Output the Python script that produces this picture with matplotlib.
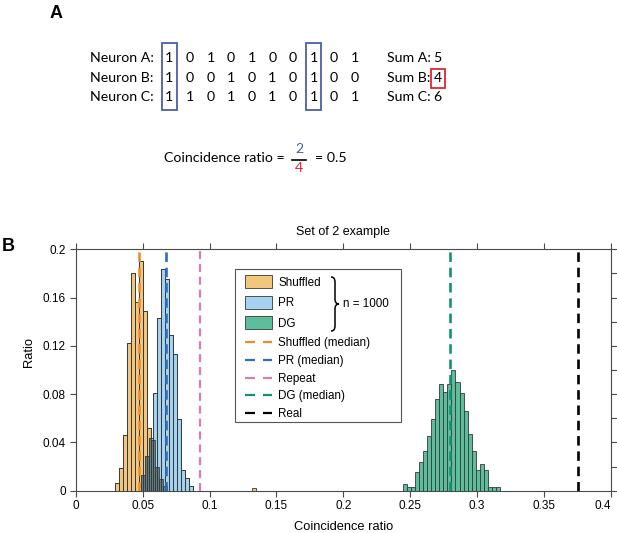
import numpy as np
import matplotlib
matplotlib.use("Agg")
import matplotlib.pyplot as plt
from matplotlib.patches import Rectangle, Patch, PathPatch
from matplotlib.lines import Line2D
from matplotlib.path import Path

plt.rcParams["font.family"] = ["Liberation Sans", "DejaVu Sans"]

# ---------------- data ----------------
# panel A: spike trains of three neurons
neuron_names = ["Neuron A:", "Neuron B:", "Neuron C:"]
sum_names = ["Sum A:", "Sum B:", "Sum C:"]
neuron_a = [1, 0, 1, 0, 1, 0, 0, 1, 0, 1]
neuron_b = [1, 0, 0, 1, 0, 1, 0, 1, 0, 0]
neuron_c = [1, 1, 0, 1, 0, 1, 0, 1, 0, 1]

# panel B: histograms (ratio per bin)
bin_w = 0.003
shuffled_start = 0.0295
shuffled_h = [0.006, 0.019, 0.046, 0.122, 0.180, 0.156, 0.190, 0.149,
              0.052, 0.042, 0.020, 0.010, 0.004]
shuffled_outlier_x = [0.1315]
shuffled_outlier_h = [0.002]
pr_start = 0.049
pr_h = [0.013, 0.029, 0.044, 0.081, 0.143, 0.184, 0.175, 0.129, 0.113,
        0.059, 0.017, 0.0105, 0.0036]
dg_start = 0.2448
dg_h = [0.0055, 0.003, 0.003, 0.0155, 0.024, 0.033, 0.0456, 0.059, 0.076,
        0.088, 0.0815, 0.088, 0.0997, 0.090, 0.081, 0.0657, 0.047, 0.0326,
        0.0174, 0.0224, 0.0174, 0.003, 0.003, 0.003]

shuffled_median = 0.0473
pr_median = 0.0676
repeat_value = 0.093
dg_median = 0.280
real_value = 0.375

x_ticks = [0, 0.05, 0.1, 0.15, 0.2, 0.25, 0.3, 0.35, 0.4]
x_ticklabels = ["0", "0.05", "0.1", "0.15", "0.2", "0.25", "0.3", "0.35", "0.4"]
y_ticks = [0, 0.04, 0.08, 0.12, 0.16, 0.2]
y_ticklabels = ["0", "0.04", "0.08", "0.12", "0.16", "0.2"]

# colours
c_shuf = "#F3C67E"
c_pr = "#A3D3F1"
c_dg = "#5DBE9C"
c_overlap = "#5F7F87"
c_edge = "#383838"
c_shuf_med = "#EE8B2C"
c_pr_med = "#2F6DBE"
c_repeat = "#D77DB3"
c_dg_med = "#139178"
c_real = "black"
c_box_blue = "#4C5EA6"
c_red = "#E0262C"

W, H = 617, 533
fig = plt.figure(figsize=(W / 100, H / 100), dpi=100)


def fx(x):
    return x / W


def fy(y):
    return 1 - y / H


# ---------------- panel A ----------------
fontA = ["Lato", "DejaVu Sans"]
fsA = 10.2
fig.text(fx(50), fy(5), "A", fontsize=13, fontweight="bold", ha="left", va="top")
fig.text(fx(2), fy(238), "B", fontsize=13, fontweight="bold", ha="left", va="top")

trains = [neuron_a, neuron_b, neuron_c]
row_y = [58, 78, 97]
col_x0, col_dx = 169.3, 20.6
for name, sname, train, y in zip(neuron_names, sum_names, trains, row_y):
    fig.text(fx(90), fy(y), name, family=fontA, fontsize=fsA, ha="left", va="center")
    for j, v in enumerate(train):
        fig.text(fx(col_x0 + j * col_dx), fy(y), str(v), family=fontA, fontsize=fsA,
                 ha="center", va="center")
    fig.text(fx(387), fy(y), sname, family=fontA, fontsize=fsA, ha="left", va="center")
    fig.text(fx(437.5), fy(y), str(sum(train)), family=fontA, fontsize=fsA,
             ha="center", va="center")

# columns where all neurons fire
coinc = [j for j in range(len(neuron_a)) if neuron_a[j] and neuron_b[j] and neuron_c[j]]
for j in coinc:
    cx = col_x0 + j * col_dx
    fig.patches.append(Rectangle((fx(cx - 7.5), fy(110)), 15 / W, 67 / H, fill=False,
                                 edgecolor=c_box_blue, lw=1.3, transform=fig.transFigure))
sums = [sum(t) for t in trains]
imin = int(np.argmin(sums))
fig.patches.append(Rectangle((fx(430.5), fy(row_y[imin] + 9.5)), 14 / W, 19 / H, fill=False,
                             edgecolor=c_red, lw=1.3, transform=fig.transFigure))

fig.text(fx(164), fy(158), "Coincidence ratio =", family=fontA, fontsize=fsA,
         ha="left", va="center")
fig.text(fx(299), fy(149), str(len(coinc)), family=fontA, fontsize=fsA, color=c_box_blue,
         ha="center", va="center")
fig.text(fx(299), fy(168), str(min(sums)), family=fontA, fontsize=fsA, color=c_red,
         ha="center", va="center")
fig.lines.append(Line2D([fx(292), fx(306)], [fy(159.5), fy(159.5)], color="black", lw=1.2,
                        transform=fig.transFigure))
fig.text(fx(315), fy(158), "= %g" % (len(coinc) / min(sums)), family=fontA, fontsize=fsA,
         ha="left", va="center")

# ---------------- panel B ----------------
ax = fig.add_axes([fx(75.7), fy(490.7), (611 - 75.7) / W, (490.7 - 249.3) / H])

shuf_x = shuffled_start + bin_w * np.arange(len(shuffled_h))
pr_x = pr_start + bin_w * np.arange(len(pr_h))
dg_x = dg_start + bin_w * np.arange(len(dg_h))

ax.bar(shuf_x, shuffled_h, width=bin_w, align="edge", color=c_shuf, edgecolor=c_edge, lw=0.6)
ax.bar(shuffled_outlier_x, shuffled_outlier_h, width=bin_w, align="edge", color=c_shuf,
       edgecolor=c_edge, lw=0.6)
ax.bar(pr_x, pr_h, width=bin_w, align="edge", color=c_pr, edgecolor=c_edge, lw=0.6)
# overlap of shuffled and PR
for xs, hs in zip(shuf_x, shuffled_h):
    for xp, hp in zip(pr_x, pr_h):
        lo, hi = max(xs, xp), min(xs, xp) + bin_w
        if hi > lo:
            ax.bar(lo, min(hs, hp), width=hi - lo, align="edge", color=c_overlap, lw=0)
ax.bar(shuf_x, shuffled_h, width=bin_w, align="edge", fill=False, edgecolor=c_edge, lw=0.6)
ax.bar(pr_x, pr_h, width=bin_w, align="edge", fill=False, edgecolor=c_edge, lw=0.6)
ax.bar(dg_x, dg_h, width=bin_w, align="edge", color=c_dg, edgecolor=c_edge, lw=0.6)

dash = (0, (3.6, 2.2))
for v, c, lw in [(shuffled_median, c_shuf_med, 1.9), (pr_median, c_pr_med, 1.9),
                 (repeat_value, c_repeat, 1.6), (dg_median, c_dg_med, 1.9),
                 (real_value, c_real, 1.9)]:
    ax.axvline(v, color=c, lw=lw, ls=dash, zorder=5)

ax.set_xlim(0, 0.4)
ax.set_ylim(0, 0.2)
ax.set_xticks(x_ticks)
ax.set_xticklabels(x_ticklabels)
ax.set_yticks(y_ticks)
ax.set_yticklabels(y_ticklabels)
spine_c = "#4a4a4a"
for s in ax.spines.values():
    s.set_color(spine_c)
    s.set_linewidth(0.8)
ax.tick_params(direction="out", length=4, width=0.8, color=spine_c, labelsize=8.5,
               top=True, right=False, pad=3)
ax.get_xticklabels()[-1].set_horizontalalignment("right")
ax2 = ax.twinx()
ax2.set_ylim(0, 0.2)
ax2.set_yticks(np.arange(0, 0.2001, 0.02))
ax2.tick_params(direction="out", length=4, width=0.8, color=spine_c, labelright=False)
for s in ax2.spines.values():
    s.set_visible(False)

ax.set_xlabel("Coincidence ratio", fontsize=9.3)
ax.xaxis.set_label_coords(0.5, -0.125)
ax.set_ylabel("Ratio", fontsize=9.3)
ax.yaxis.set_label_coords(-0.076, 0.575)
ax.text(0.5, 1.07, "Set of 2 example", transform=ax.transAxes, fontsize=9,
        ha="center", va="center")

# legend
fs_leg = 8.4
h1 = [Patch(facecolor=c_shuf, edgecolor=c_edge, lw=0.6, label="Shuffled"),
      Patch(facecolor=c_pr, edgecolor=c_edge, lw=0.6, label="PR"),
      Patch(facecolor=c_dg, edgecolor=c_edge, lw=0.6, label="DG")]
ldash = (0, (4.5, 3.6))
h2 = [Line2D([], [], color=c_shuf_med, lw=1.6, ls=ldash, label="Shuffled (median)"),
      Line2D([], [], color=c_pr_med, lw=1.6, ls=ldash, label="PR (median)"),
      Line2D([], [], color=c_repeat, lw=1.6, ls=ldash, label="Repeat"),
      Line2D([], [], color=c_dg_med, lw=1.6, ls=ldash, label="DG (median)"),
      Line2D([], [], color=c_real, lw=1.6, ls=ldash, label="Real")]

AXW, AXH = 611 - 75.7, 490.7 - 249.3


def ax_xy(px, py):
    return (px - 75.7) / AXW, (490.7 - py) / AXH


leg1 = ax.legend(handles=h1, loc="upper left", bbox_to_anchor=ax_xy(245, 275), frameon=False,
                 fontsize=fs_leg, handlelength=2.3, handleheight=1.37, labelspacing=0.6,
                 handletextpad=0.55, borderpad=0, borderaxespad=0)
ax.add_artist(leg1)
leg2 = ax.legend(handles=h2, loc="upper left", bbox_to_anchor=ax_xy(245, 337), frameon=False,
                 fontsize=fs_leg, handlelength=2.3, labelspacing=0.5,
                 handletextpad=0.55, borderpad=0, borderaxespad=0)
leg1.set_zorder(10)
leg2.set_zorder(10)
x0, y0 = ax_xy(235, 421.7)
x1, y1 = ax_xy(400.7, 269.3)
ax.add_patch(Rectangle((x0, y0), x1 - x0, y1 - y0, transform=ax.transAxes, facecolor="white",
                       edgecolor="#555555", lw=0.8, zorder=9))

# brace and sample size
bx, bt = ax_xy(331, 277)
_, bb = ax_xy(331, 331)
bm = (bt + bb) / 2
bw = 4 / AXW
d = 5 / AXH
verts = [(bx, bt), (bx + bw, bt), (bx + bw, bt - d), (bx + bw, bm + d),
         (bx + bw, bm), (bx + 2 * bw, bm), (bx + bw, bm), (bx + bw, bm - d),
         (bx + bw, bb + d), (bx + bw, bb), (bx, bb)]
codes = [Path.MOVETO, Path.CURVE3, Path.CURVE3, Path.LINETO,
         Path.CURVE3, Path.CURVE3, Path.CURVE3, Path.CURVE3,
         Path.LINETO, Path.CURVE3, Path.CURVE3]
ax.add_patch(PathPatch(Path(verts, codes), fill=False, lw=1.1, edgecolor="black",
                       transform=ax.transAxes, zorder=11))
tx, ty = ax_xy(343, 304)
ax.text(tx, ty, "n = 1000", transform=ax.transAxes, fontsize=fs_leg, ha="left", va="center",
        zorder=11)

fig.savefig("out.png", dpi=100)
